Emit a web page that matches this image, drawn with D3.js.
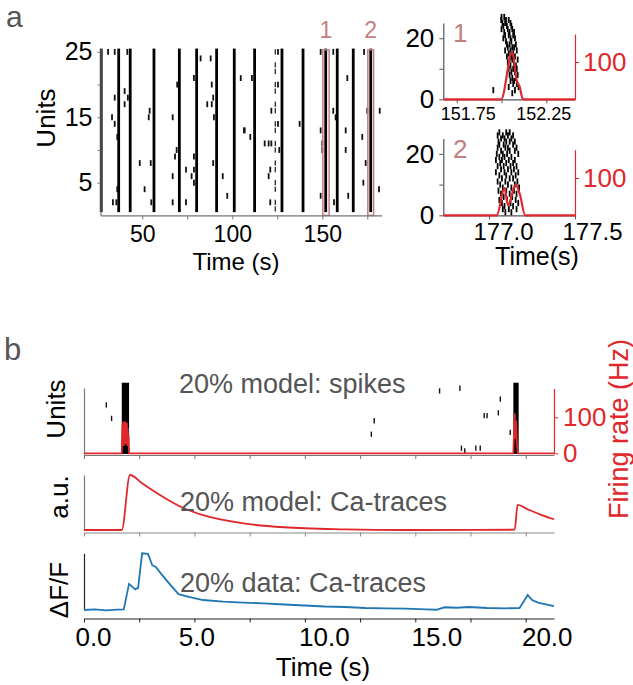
<!DOCTYPE html>
<html>
<head>
<meta charset="utf-8">
<script src="https://cdn.jsdelivr.net/npm/d3@7"></script>
<style>
  body { margin: 0; background: #fff; }
  svg { display: block; }
  text { font-family: "Liberation Sans", Arial, sans-serif; }
</style>
</head>
<body>
<svg id="fig" width="633" height="685"></svg>
<script>
// ---------- panel a: long raster ----------
const burstTimesA = [27.2, 36.9, 43.3, 56.5, 70.6, 80.2, 91.3, 101.1, 112.4, 127.6, 139.3, 151.9, 158.3, 167.2, 176.9];
const weakBurstTimesA = [123.9];
const strayTimesA = [31.0, 34.7, 41.7, 34.7, 40.2, 40.2, 42.0, 54.1, 53.6, 33.2, 34.7, 36.1, 48.6, 54.7, 51.3, 36.1, 33.7, 35.6, 55.0,
  82.4, 88.0, 78.7, 104.7, 69.4, 88.6, 89.4, 86.1, 88.6, 66.9, 89.8, 106.5, 69.1, 68.2, 78.7, 89.4, 74.3, 78.7, 66.9, 77.4, 94.7, 78.7, 97.2, 66.9, 74.3,
  125.4, 110.9, 125.4, 121.7, 125.4, 106.9, 137.4, 110.0, 118.0, 120.2, 121.7, 126.1, 121.1, 120.2, 121.1,
  149.1, 156.1, 173.2, 163.9, 156.1, 157.4, 175.0, 181.9, 149.1, 163.0, 172.2, 150.0, 150.0, 163.0, 174.1, 172.8, 181.5, 164.4, 149.1, 156.5];
const strayUnitsA = [25, 25, 25, 18, 19, 17, 18, 16, 15, 15, 14, 12, 8, 8, 4, 4, 2, 2, 2,
  24, 24, 21, 21, 20, 20, 18, 17, 17, 15, 15, 13, 10, 9, 9, 8, 7, 7, 6, 6, 6, 5, 3, 2, 2,
  25, 21, 20, 16, 14, 13, 14, 12, 11, 11, 11, 10, 7, 6, 2,
  25, 25, 25, 21, 16, 15, 16, 16, 13, 13, 12, 11, 10, 10, 8, 5, 4, 3, 3, 2];
const zoomWindows = [[150.3, 153.8], [175.3, 178.5]];
const zoomLabels = ["1", "2"];

// ---------- panel a: zoom insets ----------
// spikes listed per unit: [unit, times...]
const inset1Spikes = [
  [27, 152.000, 152.015], [26, 151.998, 152.025, 152.040], [25, 152.005, 152.020, 152.050],
  [24, 152.010, 152.030, 152.055], [23, 152.000, 152.035, 152.060], [22, 152.015, 152.045, 152.070],
  [21, 152.020, 152.040, 152.065], [20, 152.010, 152.050, 152.075], [19, 152.025, 152.055],
  [18, 152.030, 152.045, 152.080], [17, 152.035, 152.060, 152.070], [16, 152.020, 152.050, 152.085],
  [15, 152.040, 152.065], [14, 152.030, 152.055, 152.075], [13, 152.045, 152.060, 152.090],
  [12, 152.035, 152.070], [11, 152.050, 152.080], [10, 152.040, 152.065, 152.085],
  [9, 152.055, 152.075], [8, 152.045, 152.090], [7, 152.060, 152.080], [6, 152.050, 152.070],
  [5, 152.065, 152.085], [4, 152.040, 152.095], [3, 151.954, 152.075], [2, 152.060]
];
const inset2Spikes = [
  [27, 177.06, 177.10, 177.12], [26, 177.05, 177.08, 177.11, 177.14], [25, 177.07, 177.09, 177.13],
  [24, 177.055, 177.10, 177.12, 177.15], [23, 177.06, 177.085, 177.14], [22, 177.05, 177.095, 177.11, 177.16],
  [21, 177.07, 177.12, 177.15], [20, 177.045, 177.08, 177.105, 177.17], [19, 177.06, 177.09, 177.13],
  [18, 177.04, 177.075, 177.115, 177.15], [17, 177.065, 177.10, 177.14], [16, 177.05, 177.085, 177.125, 177.16],
  [15, 177.07, 177.11, 177.145], [14, 177.04, 177.09, 177.13, 177.17], [13, 177.06, 177.10, 177.155],
  [12, 177.075, 177.12, 177.14], [11, 177.05, 177.095, 177.165], [10, 177.065, 177.11, 177.15],
  [9, 177.08, 177.13, 177.175], [8, 177.055, 177.10, 177.145], [7, 177.07, 177.12, 177.16],
  [6, 177.085, 177.135], [5, 177.06, 177.105, 177.155], [4, 177.075, 177.125, 177.17],
  [3, 177.09, 177.14], [2, 177.08, 177.115, 177.16], [1, 177.095, 177.13]
];
const rate1Times = [151.675, 151.998, 152.06, 152.085, 152.10, 152.12, 152.41];
const rate1Hz = [0, 0, 127, 50, 35, 0, 0];
const rate2Times = [176.734, 177.045, 177.09, 177.11, 177.155, 177.18, 177.21, 177.5];
const rate2Hz = [0, 0, 73, 27, 82, 55, 0, 0];

// ---------- panel b ----------
const burstWindowsB = [[1.71, 2.04], [19.44, 19.68]];
const burstUnitsB = [0, 27];
const strayTimesB = [1.01, 1.25, 13.14, 13.01, 16.1, 17.02, 18.85, 18.76, 18.12, 18.25, 19.3, 17.09, 17.24, 17.74, 17.94];
const strayUnitsB = [18.6, 13.5, 12.6, 7.5, 23.9, 24.9, 20.8, 15.6, 14.5, 14.5, 8.2, 2.2, 1.2, 2.2, 2.2];
const rateBTimes = [0, 1.71, 1.74, 1.76, 1.78, 1.80, 1.82, 1.84, 1.86, 1.88, 1.90, 1.92, 1.94, 1.96, 1.98, 2.00, 2.02, 2.04,
  19.44, 19.47, 19.50, 19.53, 19.56, 19.60, 19.64, 21.28];
const rateBHz = [0, 0, 80, 30, 88, 20, 85, 35, 88, 25, 80, 40, 85, 20, 70, 30, 50, 0,
  0, 60, 111, 40, 90, 30, 0, 0];
const modelTimes = [0, 1.71, 2.08, 2.63, 3.55, 4.47, 5.39, 7.22, 9.06, 11.82, 14.57, 19.50, 19.63, 20.09, 20.64, 21.28];
const modelCa = [0, 0, 1, 0.85, 0.61, 0.405, 0.27, 0.12, 0.05, 0.013, 0, 0.005, 0.455, 0.376, 0.285, 0.195];
const dataTimes = [0, 0.5, 1.0, 1.5, 1.80, 2.04, 2.32, 2.45, 2.63, 2.90, 3.09, 3.25, 3.53, 3.92, 4.28, 4.74, 5.39, 6.3, 7.22, 8.14,
  9.06, 9.98, 10.9, 11.82, 12.74, 13.66, 14.57, 15.49, 15.96, 16.32, 16.87, 17.43, 18.25, 19.08, 19.72, 20.09, 20.29, 20.55, 21.28];
const dataDff = [0, 0.012, -0.008, 0.006, 0.01, 0.46, 0.365, 0.39, 1, 0.99, 0.79, 0.76, 0.62, 0.44, 0.28, 0.23, 0.176, 0.146, 0.129, 0.118,
  0.097, 0.079, 0.062, 0.053, 0.035, 0.03, 0.026, 0.012, 0.004, 0.048, 0.04, 0.053, 0.035, 0.03, 0.035, 0.265, 0.176, 0.13, 0.07];

const RED = "#e0282c", BLUE = "#1f77b4", ROSE = "#c27f80", GREY = "#555", AXG = "#777";

const svg = d3.select("#fig");
svg.append("rect").attr("width", 633).attr("height", 685).attr("fill", "#fff");

function styleAxis(g, color, size) {
  g.attr("font-family", null).attr("font-size", size);
  g.select(".domain").attr("stroke", color).attr("stroke-width", 1.2);
  g.selectAll(".tick line").attr("stroke", color);
  g.selectAll(".tick text").attr("fill", color === AXG || color === "#222" || color === "#555" ? "#000" : color);
  return g;
}

// the published figure nudges some tick labels sideways
function nudge(g, shifts) {
  g.selectAll(".tick text").attr("dx", d => shifts[d] || 0);
  return g;
}

function label(x, y, txt, size, color, rot, anchor) {
  return svg.append("text")
    .attr("transform", `translate(${x},${y})` + (rot ? ` rotate(${rot})` : ""))
    .attr("text-anchor", anchor || "middle")
    .attr("font-size", size).attr("fill", color).text(txt);
}

// ===== panel a, main raster =====
const xA = d3.scaleLinear().domain([26.8, 183]).range([100.5, 381.7]);
const yA = d3.scaleLinear().domain([0, 25.5]).range([215.4, 48.6]);
const unitsA = d3.range(1, 26);

const gA = svg.append("g");
gA.selectAll("line.burst")
  .data(burstTimesA)
  .join("line")
  .attr("x1", d => xA(d)).attr("x2", d => xA(d))
  .attr("y1", yA(d3.min(unitsA) - 0.5)).attr("y2", yA(d3.max(unitsA) + 0.5))
  .attr("stroke", "#000").attr("stroke-width", 2.8);
gA.selectAll("line.weak")
  .data(weakBurstTimesA.flatMap(t => unitsA.filter(u => u % 3 !== 0).map(u => [t, u])))
  .join("line")
  .attr("x1", d => xA(d[0])).attr("x2", d => xA(d[0]))
  .attr("y1", d => yA(d[1] - 0.4)).attr("y2", d => yA(d[1] + 0.4))
  .attr("stroke", "#333").attr("stroke-width", 1.4);
gA.selectAll("line.stray")
  .data(strayTimesA.map((t, i) => [t, strayUnitsA[i]]))
  .join("line")
  .attr("x1", d => xA(d[0])).attr("x2", d => xA(d[0]))
  .attr("y1", d => yA(d[1] - 0.45)).attr("y2", d => yA(d[1] + 0.45))
  .attr("stroke", "#111").attr("stroke-width", 1.8);

gA.selectAll("rect.win")
  .data(zoomWindows)
  .join("rect")
  .attr("x", d => xA(d[0])).attr("width", d => xA(d[1]) - xA(d[0]))
  .attr("y", yA(25.3)).attr("height", yA(0) - yA(25.3))
  .attr("fill", "none").attr("stroke", ROSE).attr("stroke-width", 1.5);
gA.selectAll("text.win")
  .data(zoomWindows)
  .join("text")
  .attr("x", d => xA((d[0] + d[1]) / 2)).attr("y", 38)
  .attr("text-anchor", "middle").attr("font-size", 23).attr("fill", ROSE)
  .text((d, i) => zoomLabels[i]);

styleAxis(svg.append("g").attr("transform", `translate(0,${yA(0)})`)
  .call(d3.axisBottom(xA).tickValues([50, 75, 100, 125, 150, 175])
    .tickFormat(d => d % 50 === 0 ? d : "").tickSize(4).tickSizeOuter(0).tickPadding(6)), AXG, 23);
styleAxis(svg.append("g").attr("transform", `translate(${xA.range()[0]},0)`)
  .call(d3.axisLeft(yA).tickValues([5, 10, 15, 20, 25])
    .tickFormat(d => d % 10 === 5 ? d : "").tickSize(3).tickSizeOuter(0).tickPadding(5)), AXG, 25);

label(55, 118, "Units", 26, "#000", -90);
label(236, 270, "Time (s)", 24, "#000");
label(6, 27, "a", 30, GREY, 0, "start");

// ===== panel a, insets =====
function inset(spikes, rateT, rateHz, xDom, xTicks, xFmt, xFont, xShift, top, bottom, rateMax, tag) {
  const x = d3.scaleLinear().domain(xDom).range([443.3, 575]);
  const y = d3.scaleLinear().domain([0, 25]).range([bottom, top]);
  const r = d3.scaleLinear().domain([0, rateMax]).range([bottom, bottom - rateMax * 0.373]);
  const g = svg.append("g");

  nudge(styleAxis(g.append("g").attr("transform", `translate(0,${bottom})`)
    .call(d3.axisBottom(x).tickValues(xTicks).tickFormat(xFmt).tickSize(4).tickSizeOuter(0).tickPadding(4)), "#555", xFont), xShift);
  styleAxis(g.append("g").attr("transform", `translate(443.3,0)`)
    .call(d3.axisLeft(y).tickValues([0, 10, 20]).tickFormat(d => d === 10 ? "" : d)
      .tickSize(4).tickSizeOuter(0).tickPadding(5)), "#555", 26);
  styleAxis(g.append("g").attr("transform", `translate(575,0)`)
    .call(d3.axisRight(r).tickValues([100]).tickSize(4).tickSizeOuter(0).tickPadding(4)), RED, 26);

  g.selectAll("line.sp")
    .data(spikes.flatMap(row => row.slice(1).map(t => [t, row[0]])))
    .join("line")
    .attr("x1", d => x(d[0])).attr("x2", d => x(d[0]))
    .attr("y1", d => y(d[1] - 1)).attr("y2", d => y(d[1] + 1))
    .attr("stroke", "#000").attr("stroke-width", 1.8);

  g.append("path")
    .datum(rateT.map((t, i) => [t, rateHz[i]]))
    .attr("fill", "none").attr("stroke", RED).attr("stroke-width", 2.2)
    .attr("d", d3.line().x(d => x(d[0])).y(d => r(d[1])).curve(d3.curveMonotoneX));

  g.append("text").attr("x", 453).attr("y", top + 19)
    .attr("font-size", 26).attr("fill", ROSE).text(tag);
}
inset(inset1Spikes, rate1Times, rate1Hz, [151.675, 152.41], [151.75, 152, 152.25],
  d => d === 152 ? "" : d3.format(".2f")(d), 18, {151.75: 11, 152.25: -3}, 23, 99.3, 175, "1");
inset(inset2Spikes, rate2Times, rate2Hz, [176.734, 177.5], [177.0, 177.5],
  d3.format(".1f"), 24, {177: 14, 177.5: 17}, 138.5, 215.3, 176, "2");
label(537, 265, "Time(s)", 25, "#000");

// ===== panel b =====
const xB = d3.scaleLinear().domain([0, 21.28]).range([84, 554]);
const yBu = d3.scaleLinear().domain([0, 25]).range([454, 388]);
const yBr = d3.scaleLinear().domain([0, 180]).range([453.3, 388.5]);
const yM = d3.scaleLinear().domain([0, 1]).range([530, 475]);
const yD = d3.scaleLinear().domain([0, 1]).range([610, 553.3]);
const ticksB = d3.range(0, 21, 2.5);

label(4, 360, "b", 31, GREY, 0, "start");

// spikes panel
const gB = svg.append("g");
styleAxis(gB.append("g").attr("transform", `translate(0,455)`)
  .call(d3.axisBottom(xB).tickValues(ticksB).tickFormat("").tickSize(4).tickSizeOuter(0)), AXG, 10);
styleAxis(gB.append("g").attr("transform", `translate(84,0)`)
  .call(d3.axisLeft(yBu.copy().domain([-0.4, 25])).tickValues([]).tickSizeOuter(0)), AXG, 10);
gB.selectAll("rect.burst")
  .data(burstWindowsB)
  .join("rect")
  .attr("x", d => xB(d[0])).attr("width", d => xB(d[1]) - xB(d[0]))
  .attr("y", yBu(burstUnitsB[1])).attr("height", yBu(burstUnitsB[0]) - yBu(burstUnitsB[1]))
  .attr("fill", "#000");
gB.selectAll("line.stray")
  .data(strayTimesB.map((t, i) => [t, strayUnitsB[i]]))
  .join("line")
  .attr("x1", d => xB(d[0])).attr("x2", d => xB(d[0]))
  .attr("y1", d => yBu(d[1] - 1)).attr("y2", d => yBu(d[1] + 1))
  .attr("stroke", "#111").attr("stroke-width", 1.4);
gB.append("path")
  .datum(rateBTimes.map((t, i) => [t, rateBHz[i]]))
  .attr("fill", "none").attr("stroke", RED).attr("stroke-width", 1.8)
  .attr("d", d3.line().x(d => xB(d[0])).y(d => yBr(d[1])));
styleAxis(gB.append("g").attr("transform", `translate(554,0)`)
  .call(d3.axisRight(yBr).tickValues([0, 100]).tickSize(4).tickSizeOuter(0).tickPadding(5)), RED, 26);

label(65, 409, "Units", 26, "#000", -90);
label(179, 393, "20% model: spikes", 27, GREY, 0, "start");
label(628, 429, "Firing rate (Hz)", 27, RED, -90);

// model Ca panel
styleAxis(svg.append("g").attr("transform", `translate(0,532.5)`)
  .call(d3.axisBottom(xB).tickValues(ticksB).tickFormat("").tickSize(4).tickSizeOuter(0)), "#888", 10);
styleAxis(svg.append("g").attr("transform", `translate(84,0)`)
  .call(d3.axisLeft(yM.copy().domain([-0.045, 1.09])).tickValues([]).tickSizeOuter(0)), AXG, 10);
svg.append("path")
  .datum(modelTimes.map((t, i) => [t, modelCa[i]]))
  .attr("fill", "none").attr("stroke", RED).attr("stroke-width", 1.8)
  .attr("d", d3.line().x(d => xB(d[0])).y(d => yM(d[1])).curve(d3.curveMonotoneX));
label(68, 497, "a.u.", 26, "#000", -90);
label(180, 511, "20% model: Ca-traces", 27, GREY, 0, "start");

// data Ca panel
nudge(styleAxis(svg.append("g").attr("transform", `translate(0,618.5)`)
  .call(d3.axisBottom(xB).tickValues(ticksB).tickFormat(d => d % 5 === 0 ? d3.format(".1f")(d) : "")
    .tickSize(4).tickSizeOuter(0).tickPadding(5)), "#222", 26), {0: 9, 5: 2, 10: 19, 15: 21, 20: 21});
styleAxis(svg.append("g").attr("transform", `translate(84,0)`)
  .call(d3.axisLeft(yD.copy().domain([-0.15, 1.07])).tickValues([]).tickSizeOuter(0)), "#222", 10);
svg.append("path")
  .datum(dataTimes.map((t, i) => [t, dataDff[i]]))
  .attr("fill", "none").attr("stroke", BLUE).attr("stroke-width", 1.8)
  .attr("d", d3.line().x(d => xB(d[0])).y(d => yD(d[1])));
label(68, 590, "ΔF/F", 26, "#000", -90);
label(180, 592, "20% data: Ca-traces", 27, GREY, 0, "start");
label(323, 676, "Time (s)", 26, "#000");
</script>
</body>
</html>
